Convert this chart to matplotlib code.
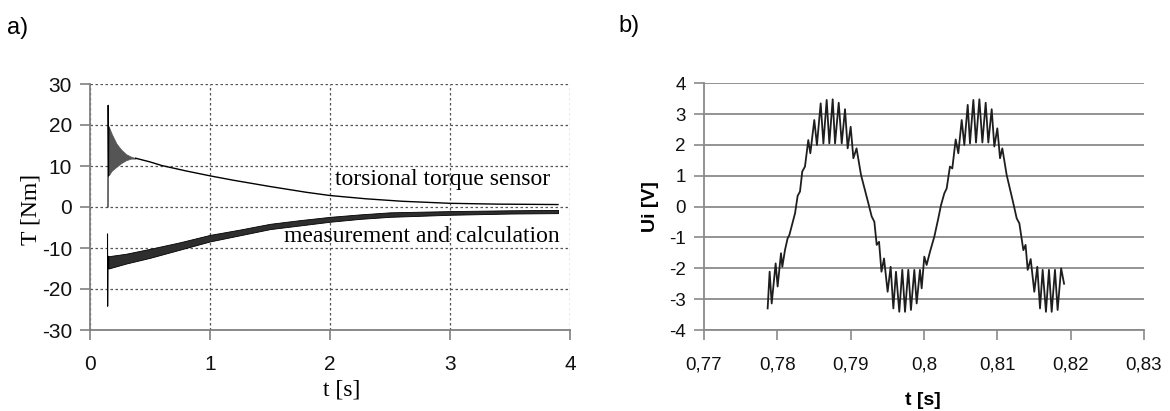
import matplotlib
matplotlib.use("Agg")
import matplotlib.pyplot as plt

plt.rcParams['axes.unicode_minus'] = False  # plain hyphen as in the original

# ---------------- data: panel a (torque) ----------------
sensor_spike_t = [0.150, 0.151, 0.155, 0.158]
sensor_spike_T = [0.0, 24.8, 7.6, 19.5]

sensor_osc_t = [0.158, 0.18, 0.22, 0.26, 0.30, 0.34, 0.38]
sensor_osc_hi = [19.5, 17.9, 15.5, 14.0, 12.9, 12.3, 11.9]
sensor_osc_lo = [7.8, 8.8, 9.8, 10.7, 11.4, 11.8, 11.8]

sensor_t = [0.38, 0.5, 0.6, 0.8, 1.0, 1.2, 1.5, 1.8, 2.0, 2.3, 2.6, 3.0, 3.4, 3.9]
sensor_T = [11.9, 11.0, 10.1, 8.8, 7.6, 6.5, 5.0, 3.6, 2.8, 2.0, 1.4, 0.9, 0.7, 0.6]

meas_spike_t = [0.146, 0.147, 0.150, 0.155]
meas_spike_T = [-6.6, -24.2, -12.0, -15.0]

meas_t = [0.155, 0.3, 0.5, 0.75, 1.0, 1.25, 1.5, 1.75, 2.0, 2.25, 2.5, 3.0, 3.5, 3.9]
meas_lo = [-15.0, -13.8, -12.4, -10.4, -8.4, -6.9, -5.4, -4.5, -3.6, -2.9, -2.4, -1.9, -1.6, -1.5]
meas_hi = [-12.0, -11.4, -10.2, -8.6, -6.8, -5.5, -4.1, -3.2, -2.4, -1.8, -1.3, -1.0, -0.8, -0.7]

a_xticks = [0, 1, 2, 3, 4]
a_yticks = [-30, -20, -10, 0, 10, 20, 30]

# ---------------- data: panel b (voltage) ----------------
ui_t = [0.77868, 0.77895, 0.77923, 0.77977, 0.78004, 0.78050, 0.78068, 0.78104,
        0.78140, 0.78164, 0.78241, 0.78277, 0.78309, 0.78340, 0.78377, 0.78422,
        0.78450, 0.78504, 0.78540, 0.78591, 0.78628, 0.78673, 0.78709, 0.78755,
        0.78787, 0.78837, 0.78878, 0.78923, 0.78959, 0.79000, 0.79037, 0.79080,
        0.79141, 0.79241, 0.79287, 0.79323, 0.79355, 0.79387, 0.79420, 0.79455,
        0.79504, 0.79545, 0.79582, 0.79618, 0.79663, 0.79704, 0.79741, 0.79786,
        0.79822, 0.79868, 0.79900, 0.79945, 0.79968, 0.80004, 0.80036, 0.80082,
        0.80141, 0.80195, 0.80232, 0.80277, 0.80309, 0.80354, 0.80386, 0.80432,
        0.80468, 0.80514, 0.80550, 0.80596, 0.80627, 0.80673, 0.80709, 0.80755,
        0.80796, 0.80841, 0.80877, 0.80923, 0.80959, 0.81000, 0.81037, 0.81068,
        0.81127, 0.81218, 0.81264, 0.81300, 0.81355, 0.81385, 0.81414, 0.81455,
        0.81504, 0.81545, 0.81582, 0.81618, 0.81663, 0.81704, 0.81741, 0.81786,
        0.81822, 0.81870, 0.81910]
ui_v = [-3.30, -2.11, -3.14, -1.84, -2.59, -1.51, -1.95, -1.41,
        -1.03, -0.92, -0.22, 0.35, 0.49, 1.14, 1.30, 2.16,
        1.73, 2.81, 2.00, 3.35, 2.05, 3.46, 2.05, 3.48,
        2.05, 3.37, 2.05, 3.16, 1.89, 2.59, 1.57, 1.89,
        1.03, 0.11, -0.32, -0.49, -1.24, -1.14, -2.11, -1.68,
        -2.76, -1.95, -3.30, -2.11, -3.41, -2.05, -3.41, -2.05,
        -3.35, -2.05, -3.14, -2.05, -2.65, -1.62, -1.89, -1.46,
        -0.97, -0.38, 0.05, 0.43, 0.59, 1.30, 1.24, 2.18,
        1.73, 2.81, 2.00, 3.30, 2.05, 3.46, 2.08, 3.48,
        2.08, 3.37, 2.08, 3.16, 1.95, 2.54, 1.57, 1.89,
        1.03, 0.11, -0.38, -0.54, -1.41, -1.24, -2.05, -1.70,
        -2.76, -1.95, -3.30, -2.05, -3.41, -2.05, -3.41, -2.05,
        -3.35, -2.00, -2.50]

b_xticks = [0.77, 0.78, 0.79, 0.80, 0.81, 0.82, 0.83]
b_xlabels = ['0,77', '0,78', '0,79', '0,8', '0,81', '0,82', '0,83']
b_yticks = [-4, -3, -2, -1, 0, 1, 2, 3, 4]

SANS = 'Liberation Sans'
SERIF = 'Liberation Serif'

W, H = 1170, 411
fig = plt.figure(figsize=(W / 100, H / 100), dpi=100)
fig.patch.set_facecolor('white')

# ---------------- panel a ----------------
axa = fig.add_axes([90 / W, (H - 330) / H, 480 / W, 246 / H])
axa.set_xlim(0, 4)
axa.set_ylim(-30, 30)
axa.grid(True, linestyle=(0, (2, 2)), color='#555555', linewidth=0.9)
axa.set_axisbelow(True)

axa.plot(sensor_spike_t, sensor_spike_T, color='black', lw=0.8)
axa.fill_between(sensor_osc_t, sensor_osc_lo, sensor_osc_hi, color='#555555', lw=0.5)
axa.plot(sensor_t, sensor_T, color='black', lw=1.0)

axa.plot(meas_spike_t, meas_spike_T, color='black', lw=0.8)
axa.fill_between(meas_t, meas_lo, meas_hi, color='#2e2e2e', lw=0.6, edgecolor='black')

axa.text(2.04, 6.6, 'torsional torque sensor', family=SERIF, fontsize=17, va='center')
axa.text(1.62, -7.3, 'measurement and calculation', family=SERIF, fontsize=17, va='center')

for s in ['top', 'right']:
    axa.spines[s].set_visible(False)
for s in ['left', 'bottom']:
    axa.spines[s].set_color('#808080')
    axa.spines[s].set_linewidth(1.3)
axa.set_xticks(a_xticks)
axa.set_yticks(a_yticks)
axa.tick_params(axis='both', direction='out', length=7, width=1.2, color='#808080',
                labelsize=15, labelcolor='#111111')
axa.tick_params(axis='x', pad=11)
axa.tick_params(axis='y', pad=6)
for lab in axa.get_xticklabels() + axa.get_yticklabels():
    lab.set_family(SANS)
axa.set_xlabel('t [s]', family=SERIF, fontsize=17)
axa.set_ylabel('T [Nm]', family=SERIF, fontsize=17)
axa.xaxis.set_label_coords(0.525, -0.2)
axa.yaxis.set_label_coords(-0.1, 0.49)

# ---------------- panel b ----------------
axb = fig.add_axes([704 / W, (H - 330) / H, 440 / W, 246.7 / H])
axb.set_xlim(0.77, 0.83)
axb.set_ylim(-4, 4)
axb.yaxis.grid(True, color='#8a8a8a', linewidth=1.3)
axb.set_axisbelow(True)
axb.plot(ui_t, ui_v, color='#1e1e1e', lw=1.3)

for s in ['top', 'right']:
    axb.spines[s].set_visible(False)
for s in ['left', 'bottom']:
    axb.spines[s].set_color('#8a8a8a')
    axb.spines[s].set_linewidth(1.3)
axb.set_xticks(b_xticks)
axb.set_xticklabels(b_xlabels)
axb.set_yticks(b_yticks)
axb.tick_params(axis='both', direction='out', length=7, width=1.2, color='#8a8a8a',
                labelsize=13.5, labelcolor='#111111')
axb.tick_params(axis='x', pad=12)
axb.tick_params(axis='y', pad=6)
for lab in axb.get_xticklabels() + axb.get_yticklabels():
    lab.set_family(SANS)
axb.set_xlabel('t [s]', family=SANS, fontsize=14, fontweight='bold')
axb.set_ylabel('Ui [V]', family=SANS, fontsize=14, fontweight='bold')
axb.xaxis.set_label_coords(0.498, -0.25)
axb.yaxis.set_label_coords(-0.103, 0.5)

fig.text(7 / W, 1 - 28 / H, 'a)', family=SANS, fontsize=17, va='center')
fig.text(618 / W, 1 - 26 / H, 'b)', family=SANS, fontsize=17, va='center')

fig.savefig('out.png', dpi=100, facecolor='white')
